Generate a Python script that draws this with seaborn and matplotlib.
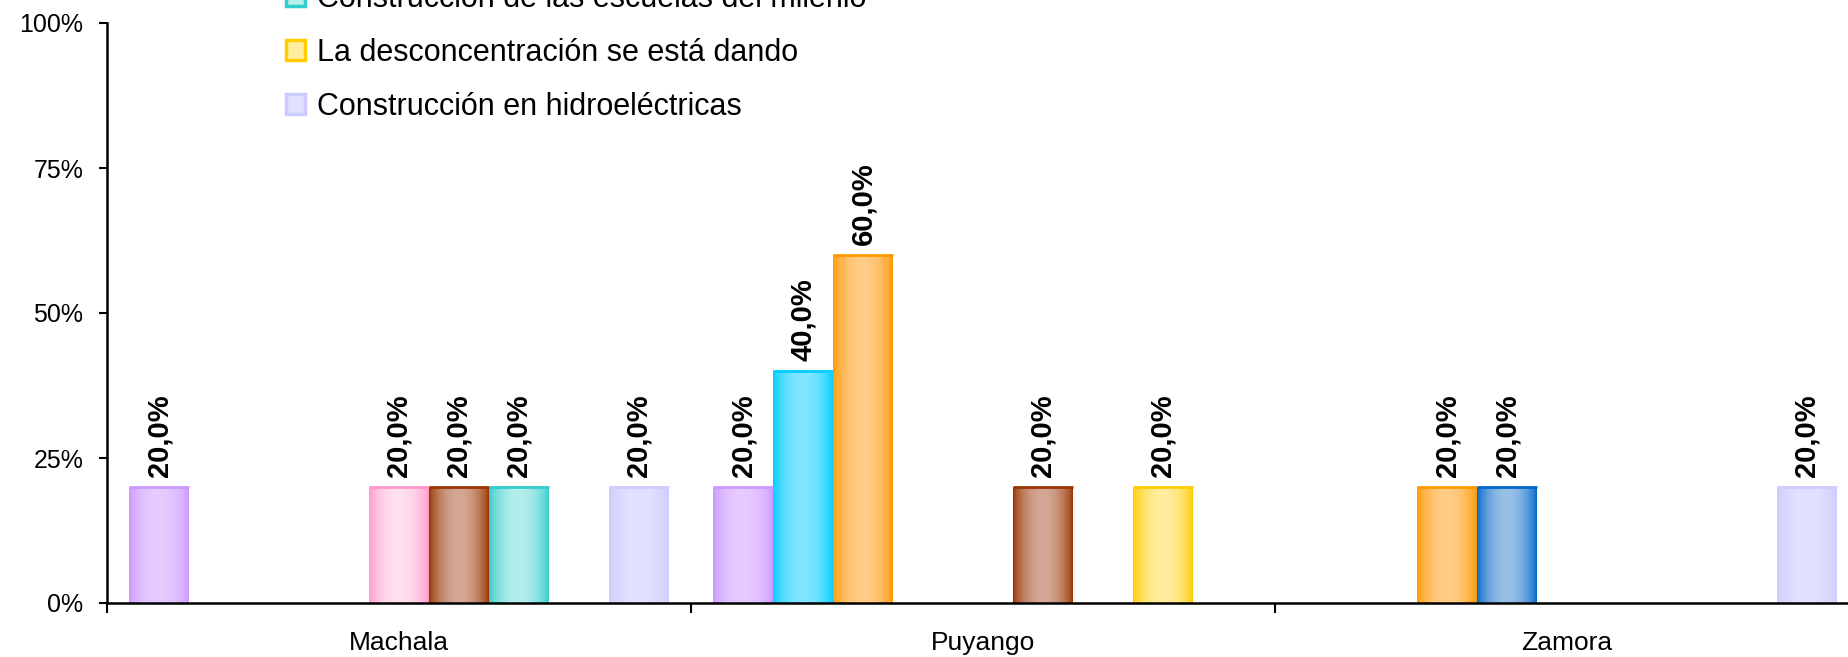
import numpy as np
import pandas as pd
import matplotlib
matplotlib.use('Agg')
import matplotlib.pyplot as plt
import matplotlib.colors as mcolors
from matplotlib.patches import Patch
import seaborn as sns

# Datos del gráfico
municipios = ['Machala', 'Puyango', 'Zamora']
series = ['Serie 1', 'Serie 2', 'Serie 3', 'Serie 4', 'Serie 5', 'Serie 6',
          'Construcción de las escuelas del milenio',
          'La desconcentración se está dando',
          'Construcción en hidroeléctricas']
machala = [20, 0, 0, 0, 20, 20, 20, 0, 20]
puyango = [20, 40, 60, 0, 0, 20, 0, 20, 0]
zamora = [0, 0, 20, 20, 0, 0, 0, 0, 20]

# colores: borde oscuro / centro claro (efecto cilindro de Excel)
colores_borde = ['#CC99FF', '#00CCFF', '#FF9900', '#0066CC', '#FF99CC',
                 '#993300', '#33CCCC', '#FFCC00', '#CCCCFF']
colores_centro = ['#E6CCFF', '#80E6FF', '#FFCC88', '#99C0E6', '#FFE0EE',
                  '#D4A894', '#B5EEEC', '#FFEDA0', '#E2E2FF']

filas = []
for mun, vals in zip(municipios, [machala, puyango, zamora]):
    for s, v in zip(series, vals):
        filas.append({'municipio': mun, 'serie': s, 'valor': v})
df = pd.DataFrame(filas)

sns.set_style('white')
plt.rcParams['font.family'] = ['Liberation Sans', 'DejaVu Sans']
plt.rcParams['text.color'] = 'black'
plt.rcParams['xtick.color'] = 'black'
plt.rcParams['ytick.color'] = 'black'

fig = plt.figure(figsize=(18.49, 6.57), dpi=100)
ax = fig.add_axes([107 / 1849, 54 / 657, 1752 / 1849, 580 / 657])

sns.barplot(data=df, x='municipio', y='valor', hue='serie',
            order=municipios, hue_order=series,
            palette=colores_borde, width=9 / 9.75, gap=0,
            linewidth=0, errorbar=None, legend=False, ax=ax)


def pintar_gradiente(ax, patch, c_borde, c_centro):
    x, y = patch.get_x(), patch.get_y()
    w, h = patch.get_width(), patch.get_height()
    t = np.linspace(0, 1, 80)
    m = np.sin(np.pi * t) ** 0.7
    b = np.array(mcolors.to_rgb(c_borde))
    c = np.array(mcolors.to_rgb(c_centro))
    rgb = b[None, :] * (1 - m[:, None]) + c[None, :] * m[:, None]
    im = ax.imshow(rgb[None, :, :], extent=[x, x + w, y, y + h],
                   aspect='auto', interpolation='bilinear',
                   zorder=patch.get_zorder() + 0.1)
    im.set_clip_path(patch)
    ax.plot([x, x + w], [y + h, y + h], color=c_borde, lw=2,
            zorder=patch.get_zorder() + 0.2, solid_capstyle='butt')


for i, cont in enumerate(ax.containers):
    for barra in cont:
        if barra.get_height() > 0:
            pintar_gradiente(ax, barra, colores_borde[i], colores_centro[i])
    etiquetas = [f'{b.get_height():.1f}%'.replace('.', ',') if b.get_height() > 0 else ''
                 for b in cont]
    ax.bar_label(cont, labels=etiquetas, rotation=90, padding=7,
                 fontsize=21, fontweight='bold', color='black')

ax.set_xlim(-0.5, 2.5)
ax.set_ylim(0, 100)
ax.set_xlabel('')
ax.set_ylabel('')

ax.set_yticks([0, 25, 50, 75, 100])
ax.set_yticklabels([f'{v}%' for v in [0, 25, 50, 75, 100]], fontsize=18)
ax.tick_params(axis='y', direction='out', length=6, width=1.5, pad=11, left=True)

ax.set_xticks([-0.5, 0.5, 1.5, 2.5])
ax.set_xticklabels([])
ax.set_xticks([0, 1, 2], minor=True)
ax.set_xticklabels(municipios, minor=True, fontsize=19)
ax.tick_params(axis='x', which='major', direction='out', length=7, width=1.5, bottom=True)
ax.tick_params(axis='x', which='minor', length=0, pad=20)

sns.despine(ax=ax)
for lado in ['left', 'bottom']:
    ax.spines[lado].set_linewidth(1.8)
    ax.spines[lado].set_color('black')

# leyenda (solo se ven las últimas entradas, el resto queda fuera del recorte)
manejadores = [Patch(facecolor=colores_centro[i], edgecolor=colores_borde[i], linewidth=2.5)
               for i in [6, 7, 8]]
fig.legend(manejadores, series[6:], loc='center left',
           bbox_to_anchor=(286 / 1849, (657 - 53) / 657),
           frameon=False, fontsize=22, handlelength=0.62, handleheight=0.62,
           handletextpad=0.4, labelspacing=0.78, borderpad=0, borderaxespad=0)

fig.savefig('out.png', dpi=100)
